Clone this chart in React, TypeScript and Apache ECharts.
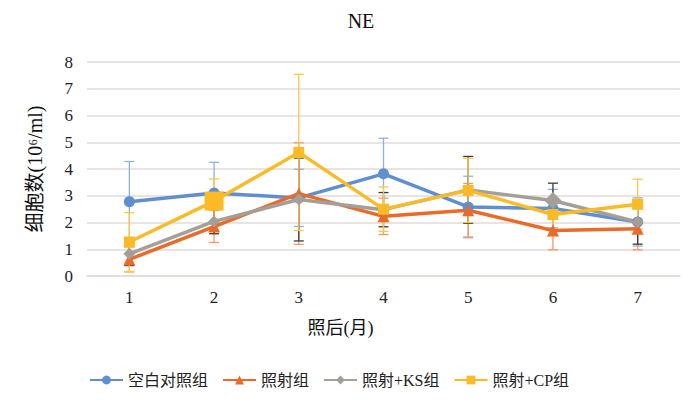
import React, { useEffect, useRef } from "react";
import * as echarts from "echarts";

const months = ["1", "2", "3", "4", "5", "6", "7"];
const seriesNames = ["空白对照组", "照射组", "照射+KS组", "照射+CP组"];
const controlMean = [2.78, 3.1, 2.92, 3.82, 2.58, 2.52, 2.02];
const controlErr = [1.5, 1.15, 1.07, 1.33, 1.15, 0.72, 0.9];
const irradMean = [0.62, 1.85, 3.08, 2.23, 2.46, 1.7, 1.77];
const irradErr = [0.47, 0.6, 1.9, 0.68, 1.0, 0.72, 0.79];
const ksMean = [0.83, 2.04, 2.86, 2.48, 3.22, 2.82, 2.02];
const ksErr = [0.44, 0.46, 1.55, 0.64, 1.25, 0.65, 0.83];
const cpMean = [1.27, 2.8, 4.62, 2.5, 3.2, 2.3, 2.68];
const cpErr = [1.1, 0.83, 2.92, 0.83, 1.2, 0.6, 0.94];
const yTicks = [0, 8, 1];

const colors = ["#5f8fcf", "#ea6b27", "#a59f9a", "#fbbb27"];
const errColors = ["#8fb1de", "#f09a66", "#3c3c3c", "#fcc743"];
const symbols = ["circle", "triangle", "diamond", "rect"];
const symbolSizes = [
  [11, 11, 11, 11, 11, 11, 11],
  [12, 12, 12, 12, 12, 12, 12],
  [12, 12, 12, 12, 12, 17, 12],
  [11, 19, 11, 11, 11, 11, 11],
];

const FONT = '"Liberation Serif", "DejaVu Serif", "Noto Sans CJK SC", serif';

export default function App() {
  const ref = useRef<HTMLDivElement>(null);
  useEffect(() => {
    if (!ref.current) return;
    const chart = echarts.init(ref.current, null, { renderer: "svg" });
    const means = [controlMean, irradMean, ksMean, cpMean];
    const errs = [controlErr, irradErr, ksErr, cpErr];

    const errorSeries = means.map((m, si) => ({
      type: "custom",
      name: seriesNames[si] + "误差",
      z: 1,
      silent: true,
      data: m.map((v, i) => [i, v - errs[si][i], v + errs[si][i]]),
      renderItem: (params: any, api: any) => {
        const x = api.value(0);
        const lo = api.coord([x, api.value(1)]);
        const hi = api.coord([x, api.value(2)]);
        const cap = 5;
        const style = { stroke: errColors[si], lineWidth: 1.3 };
        return {
          type: "group",
          children: [
            { type: "line", shape: { x1: hi[0], y1: hi[1], x2: lo[0], y2: lo[1] }, style },
            { type: "line", shape: { x1: hi[0] - cap, y1: hi[1], x2: hi[0] + cap, y2: hi[1] }, style },
            { type: "line", shape: { x1: lo[0] - cap, y1: lo[1], x2: lo[0] + cap, y2: lo[1] }, style },
          ],
        };
      },
    }));

    const lineSeries = means.map((m, si) => ({
      type: "line",
      name: seriesNames[si],
      z: 3,
      symbol: symbols[si],
      data: m.map((v, i) => ({ value: v, symbolSize: symbolSizes[si][i] })),
      symbolSize: symbolSizes[si][0],
      lineStyle: { color: colors[si], width: 3.5 },
      itemStyle: { color: colors[si] },
    }));

    chart.setOption({
      animation: false,
      title: {
        text: "NE",
        left: 356,
        top: 6,
        textAlign: "center",
        textStyle: { fontFamily: FONT, fontSize: 20, fontWeight: "normal", color: "#111" },
      },
      legend: {
        data: seriesNames,
        left: 84,
        top: 367,
        itemWidth: 33,
        itemHeight: 11,
        itemGap: 14,
        textStyle: { fontFamily: FONT, fontSize: 16, color: "#222" },
      },
      grid: { left: 87, right: 20, top: 62, bottom: 138, containLabel: false },
      xAxis: {
        type: "category",
        data: months,
        boundaryGap: true,
        name: "照后(月)",
        nameLocation: "middle",
        nameGap: 43,
        nameTextStyle: { fontFamily: FONT, fontSize: 18, color: "#111", padding: [0, 86, 0, 0] },
        axisLine: { show: true, lineStyle: { color: "#e3dada", width: 1.5 } },
        axisTick: { show: false },
        axisLabel: { fontFamily: FONT, fontSize: 17, color: "#222", margin: 13 },
      },
      yAxis: {
        type: "value",
        min: yTicks[0],
        max: yTicks[1],
        interval: yTicks[2],
        name: "细胞数(10⁶/ml)",
        nameLocation: "middle",
        nameRotate: 90,
        nameGap: 42,
        nameTextStyle: { fontFamily: FONT, fontSize: 20, color: "#111" },
        axisLine: { show: false },
        axisTick: { show: false },
        axisLabel: { fontFamily: FONT, fontSize: 17, color: "#222", margin: 14 },
        splitLine: { lineStyle: { color: "#e3dada", width: 1.5 } },
      },
      series: [...errorSeries, ...lineSeries],
    });
    return () => chart.dispose();
  }, []);
  return (
    <div
      ref={ref}
      style={{ position: "absolute", left: 0, top: 0, width: 700, height: 414 }}
    />
  );
}
